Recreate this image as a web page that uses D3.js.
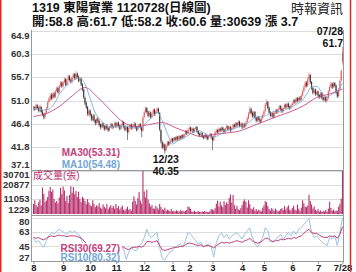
<!DOCTYPE html>
<html>
<head>
<meta charset="utf-8">
<script src="https://cdn.jsdelivr.net/npm/d3@7"></script>
<style>
  body { margin: 0; background: #fff; }
  text { font-family: "Liberation Sans", "Noto Sans CJK TC", sans-serif; }
</style>
</head>
<body>
<div id="viz"></div>
<script>
// daily candles, 2022/08/01 .. 2023/07/28 (trading days)
var openP = [49.3,49.7,49.3,50.0,49.6,49.0,49.7,48.8,48.3,47.7,
  48.6,49.5,50.7,51.2,52.1,51.5,52.4,51.8,52.9,53.5,
  52.7,54.0,54.6,53.9,54.7,55.3,54.2,55.1,55.9,55.2,
  54.8,55.7,56.3,55.5,56.4,55.8,55.0,55.4,54.3,53.2,
  51.5,50.5,49.7,48.2,49.0,48.2,47.1,48.0,47.1,46.5,
  47.4,46.9,46.2,45.7,46.4,45.9,45.3,46.0,45.5,45.1,
  45.8,46.3,45.5,46.0,46.5,45.9,46.6,46.0,45.4,46.1,
  46.7,45.8,45.2,45.7,44.7,45.6,46.2,45.5,46.0,46.4,
  45.7,45.2,45.9,46.3,45.6,45.0,47.7,48.7,49.5,48.8,
  48.0,48.6,47.7,48.4,49.2,48.3,48.9,49.4,48.5,45.0,
  42.7,41.5,42.2,41.1,42.0,42.7,42.3,43.0,43.4,42.9,
  43.6,43.2,43.8,43.3,43.9,43.5,44.1,43.7,44.3,44.9,
  44.5,45.2,45.6,45.0,45.4,44.8,45.3,45.7,44.9,44.4,
  44.1,44.5,43.9,43.6,44.2,43.8,43.4,44.0,44.3,43.7,
  43.1,44.0,44.7,45.1,44.7,45.4,45.0,45.6,45.2,44.8,
  45.5,45.9,45.3,45.7,45.1,45.6,46.2,45.8,46.5,46.1,
  46.8,46.0,46.4,45.7,46.3,45.9,46.7,47.5,48.4,49.3,
  48.6,47.9,48.7,47.6,47.0,47.7,47.2,46.8,47.5,48.2,
  48.9,50.2,50.7,49.6,48.7,48.0,48.5,47.8,48.6,49.1,
  48.7,49.4,49.9,49.3,48.9,49.6,50.2,49.7,50.4,49.8,
  49.5,50.1,50.5,51.1,50.7,51.5,51.0,51.6,51.2,52.1,
  52.9,53.7,54.6,54.0,55.3,56.1,54.7,53.5,52.6,53.2,
  52.3,52.8,52.1,51.7,52.5,51.6,51.2,51.7,51.0,51.5,
  52.9,53.8,54.4,53.7,54.5,54.0,52.7,51.9,53.3,55.0,
  58.8];
var highP = [49.9,49.9,50.4,50.3,49.8,50.2,49.9,49.1,48.5,48.8,
  49.7,50.9,51.7,52.4,52.5,52.6,52.7,53.1,53.8,53.7,
  54.2,54.9,54.8,54.9,55.6,55.5,55.3,56.2,56.1,55.5,
  55.9,56.5,56.5,56.9,56.6,56.0,55.7,55.6,54.5,53.4,
  51.8,50.8,49.9,49.3,49.2,48.4,48.2,48.3,47.3,47.6,
  47.6,47.1,46.4,46.6,46.6,46.1,46.2,46.3,45.7,45.9,
  46.5,46.5,46.1,46.8,46.7,46.8,46.8,46.2,46.3,47.0,
  46.9,46.0,45.9,45.9,45.8,46.4,46.4,46.2,46.7,46.6,
  45.9,46.1,46.5,46.5,45.8,47.9,49.0,49.8,49.7,49.0,
  48.9,48.8,48.6,49.4,49.4,49.1,49.6,49.6,48.7,45.3,
  43.0,42.6,42.4,42.2,42.9,42.9,43.1,43.6,43.5,43.7,
  43.8,44.0,43.9,44.1,44.0,44.2,44.3,44.4,45.1,45.1,
  45.4,45.9,45.8,45.6,45.6,45.5,45.9,45.9,45.1,44.6,
  44.7,44.7,44.1,44.3,44.4,44.0,44.1,44.5,44.5,43.9,
  44.1,44.9,45.3,45.3,45.6,45.6,45.8,45.8,45.4,45.6,
  46.1,46.0,45.9,45.9,45.8,46.4,46.4,46.7,46.7,47.0,
  47.0,46.6,46.6,46.5,46.5,46.9,47.8,48.7,49.8,49.6,
  48.9,48.9,48.9,47.8,47.9,47.9,47.4,47.7,48.4,49.1,
  50.5,51.2,50.9,49.8,48.9,48.7,48.7,48.8,49.3,49.3,
  49.6,50.1,50.1,49.5,49.8,50.4,50.4,50.6,50.6,50.0,
  50.3,50.7,51.3,51.3,51.7,51.7,51.8,51.9,52.3,53.1,
  54.0,54.9,54.9,55.6,56.6,56.3,54.9,53.7,53.4,53.4,
  53.0,53.0,52.3,52.7,52.7,51.8,51.9,51.9,51.7,53.1,
  54.0,54.7,54.6,54.7,54.7,54.2,52.9,53.5,55.2,57.2,
  61.7];
var lowP = [49.0,48.9,49.1,49.2,48.6,48.7,48.4,47.9,47.2,47.4,
  48.3,49.3,50.4,50.9,51.1,51.2,51.4,51.5,52.6,52.3,
  52.4,53.7,53.5,53.6,54.4,53.8,53.9,54.8,54.8,54.4,
  54.5,55.4,55.1,55.2,55.4,54.6,54.7,53.9,52.8,51.3,
  50.1,49.3,47.9,47.8,47.8,46.9,46.8,46.7,46.0,46.2,
  46.5,45.8,45.2,45.4,45.5,44.9,45.0,45.1,44.7,44.8,
  45.5,45.3,45.2,45.7,45.5,45.6,45.6,45.0,45.1,45.8,
  45.4,44.8,44.9,43.1,44.4,45.3,45.1,45.2,45.7,45.3,
  44.8,44.9,45.6,45.2,43.7,44.8,47.4,48.4,48.4,47.6,
  47.7,47.3,47.4,48.1,47.9,48.0,48.6,48.3,44.9,42.4,
  41.3,41.2,40.35,40.8,41.7,41.9,42.0,42.7,42.5,42.6,
  42.8,42.9,42.9,43.0,43.1,43.2,43.3,43.4,44.0,44.1,
  44.2,44.9,44.6,44.7,44.4,44.5,45.0,44.5,44.0,43.7,
  43.8,43.5,43.2,43.3,43.4,43.0,43.1,43.7,43.3,41.1,
  42.8,43.7,44.4,44.3,44.4,44.6,44.7,44.8,44.4,44.5,
  45.2,44.9,45.0,44.7,44.8,45.3,45.4,45.5,45.7,45.8,
  45.6,45.7,45.3,45.4,45.5,45.6,46.4,47.2,48.1,48.2,
  47.5,47.6,47.2,46.6,46.7,46.8,46.4,46.5,47.2,47.9,
  48.6,49.9,49.2,48.3,47.6,47.7,47.4,47.5,48.3,48.3,
  48.4,49.1,48.9,48.5,48.6,49.3,49.3,49.4,49.4,49.1,
  49.2,49.8,50.2,50.3,50.4,50.6,50.7,50.8,50.9,51.8,
  52.6,53.4,53.6,53.7,55.0,54.3,53.1,52.2,52.3,51.9,
  52.0,51.7,51.3,51.4,51.2,50.8,50.9,50.6,50.7,51.2,
  52.6,53.5,53.3,53.4,53.6,52.3,51.5,51.6,53.0,54.7,
  58.2];
var closeP = [49.6,49.2,50.1,49.5,48.9,49.8,48.7,48.2,47.6,48.5,
  49.4,50.6,51.3,52.0,51.4,52.3,51.7,52.8,53.4,52.6,
  53.9,54.5,53.8,54.6,55.2,54.1,55.0,55.8,55.1,54.7,
  55.6,56.2,55.4,56.3,55.7,54.9,55.3,54.2,53.1,51.6,
  50.4,49.6,48.3,48.9,48.1,47.2,47.9,47.0,46.4,47.3,
  46.8,46.1,45.6,46.3,45.8,45.2,45.9,45.4,45.0,45.7,
  46.2,45.6,45.9,46.4,45.8,46.5,45.9,45.3,46.0,46.6,
  45.7,45.1,45.6,44.6,45.5,46.1,45.4,45.9,46.3,45.6,
  45.1,45.8,46.2,45.5,44.9,47.6,48.6,49.4,48.7,47.9,
  48.5,47.6,48.3,49.1,48.2,48.8,49.3,48.6,45.2,42.8,
  41.6,42.3,41.0,41.9,42.6,42.2,42.9,43.3,42.8,43.5,
  43.1,43.7,43.2,43.8,43.4,44.0,43.6,44.2,44.8,44.4,
  45.1,45.5,44.9,45.3,44.7,45.2,45.6,44.8,44.3,44.0,
  44.4,43.8,43.5,44.1,43.7,43.3,43.9,44.2,43.6,43.0,
  43.9,44.6,45.0,44.6,45.3,44.9,45.5,45.1,44.7,45.4,
  45.8,45.2,45.6,45.0,45.5,46.1,45.7,46.4,46.0,46.7,
  45.9,46.3,45.6,46.2,45.8,46.6,47.4,48.3,49.2,48.5,
  47.8,48.6,47.5,46.9,47.6,47.1,46.7,47.4,48.1,48.8,
  50.1,50.6,49.5,48.6,47.9,48.4,47.7,48.5,49.0,48.6,
  49.3,49.8,49.2,48.8,49.5,50.1,49.6,50.3,49.7,49.4,
  50.0,50.4,51.0,50.6,51.4,50.9,51.5,51.1,52.0,52.8,
  53.6,54.5,53.9,55.2,56.0,54.6,53.4,52.5,53.1,52.2,
  52.7,52.0,51.6,52.4,51.5,51.1,51.6,50.9,51.4,52.8,
  53.7,54.3,53.6,54.4,53.9,52.6,51.8,53.2,54.9,56.9,
  60.6];
var volume = [7200,9800,6500,5100,8400,10200,6100,18900,14300,8600,
  9700,12100,16500,19200,15800,17400,10600,8200,9300,7600,
  11800,18700,14200,19600,16900,9400,12800,7900,13600,19800,
  15200,19300,14100,16400,12200,15900,10800,8400,12300,11200,
  9300,7100,10600,8200,6400,5600,9800,7300,4900,6200,
  5400,7800,4600,3800,6900,5200,4100,7200,3500,4800,
  6300,4400,5800,3900,7100,4300,5600,3200,4700,6000,
  3100,2600,3800,5200,2900,3600,2400,8800,12600,9400,
  6800,11300,15800,9600,7400,30701,16200,11800,17400,10300,
  7600,5200,6400,4100,3500,5800,4600,3300,7200,5100,
  3400,2800,4500,2300,3100,2600,2100,3700,1900,2400,
  1800,2700,2200,1600,3000,1900,2500,1700,2300,2900,
  5400,4800,3600,1800,1500,2400,1700,1400,2100,1600,
  1300,1900,1500,2200,1700,1400,1229,2000,3600,3200,
  2600,4100,7300,9600,5400,8800,6300,4900,9100,6600,
  8400,7200,11600,13900,8200,13600,6400,3800,5900,3400,
  2800,4200,6300,9200,10400,8600,4700,9800,7100,3900,
  3300,4800,2400,3600,2000,3100,2600,1800,4500,6100,
  9200,8400,5600,3700,2500,4200,3300,2100,3900,2700,
  1900,2400,3500,4200,2800,5600,3100,4800,6200,3000,
  2500,4400,5900,3200,2600,6700,3800,2200,4600,9800,
  7600,5300,4900,6100,13700,9200,6800,3900,5400,2900,
  2200,3500,1800,2600,1500,2300,1700,2900,1600,3800,
  8700,4300,2400,3100,1900,2600,2100,5200,7300,10900,
  30639];
// moving averages (every 4th / 10th trading day) and RSI (every 2nd day)
var ma10 = [49.4,49.3,49.1,49.25,50.3,52.2,53.5,54.5,55.2,55.5,54.3,51.4,48.5,47.1,46.2,45.7,
  45.7,45.9,45.9,45.6,45.5,45.7,46.7,47.7,48.6,46.95,44.4,42.3,42.9,43.4,44.0,44.65,45.0,
  44.6,44.0,43.7,44.1,44.7,45.2,45.4,45.8,46.1,46.8,47.6,47.8,47.9,48.5,48.9,48.7,49.2,
  49.6,50.25,50.8,52.2,53.7,53.8,52.6,51.7,52.3,52.9,54.48];
var ma30 = [47.8,48.4,49.8,51.9,53.6,51.6,49.0,46.6,45.8,46.2,46.6,45.6,44.6,43.8,44.2,
  44.5,44.9,45.9,46.9,47.9,48.8,50.0,51.6,52.3,53.31];
var rsi10 = [55,50,52,47,44,52,58,62,60,64, 66,64,62,60,64,62,64,60,58,50,
  40,34,36,32,30,34,30,36,32,30, 40,44,46,42,44,42,29,38,44,40,
  40,46,48,56,66,58,56,60,62,44, 30,28,34,38,40,44,46,48,44,52,
  62,60,56,52,48,50,44,46,48,44, 32,50,58,62,56,60,54,58,60,62,
  58,54,60,64,68,56,48,44,50,56, 68,64,52,50,54,56,60,54,58,62,
  58,64,60,66,68,72,76,79,62,56, 58,54,50,48,46,56,54,58,46,62, 80.32];
var rsi30 = [56,55,56,54,53,55,57,58,57,58, 59,58,58,57,58,58,58,57,56,54,
  50,47,46,45,44,44,43,44,43,42, 44,45,45,44,45,44,42,41,43,44,
  44,45,44,46,51,51,50,51,52,46, 41,40,41,42,43,44,44,45,45,47,
  49,49,48,47,46,47,45,46,46,45, 43,46,48,50,49,50,49,50,51,52,
  51,50,52,53,55,52,50,49,50,52, 55,55,52,51,52,52,54,53,54,55,
  54,56,55,57,58,61,64,66,62,61, 61,59,57,56,56,58,57,58,55,60, 69.27];

var priceTicks = ['64.9','60.3','55.7','51.0','46.4','41.8','37.1'];
var volTicks = ['30701','20877','11053','1229'];
var rsiTicks = ['80','63','45','27'];
var monthLabels = ['8','9','10','11','12','1','2','3','4','5','6','7','7/28'];
var monthStart = [0,23,44,64,86,108,121,139,162,179,201,221,240];

var upColor = '#e4565a', downColor = '#333',
    ma30Color = '#c2407a', ma10Color = '#74a7d3',
    volColor = '#b8316f';

var svg = d3.select('#viz').append('svg')
  .attr('width', 356)
  .attr('height', 272);

var left = 31, right = 344;

var xScale = d3.scaleLinear().domain([0, closeP.length - 1]).range([33.5, 342.5]);
var yPrice = d3.scaleLinear().domain([37.1, 64.9]).range([170, 31]);
var yVol = d3.scaleLinear().domain([0, 30701]).range([214, 171]);
var yRsi = d3.scaleLinear().domain([27, 80]).range([261, 218]);

// grid + left labels for one panel
function panelAxis(scale, ticks, top, bottom, pad) {
  var g = svg.append('g');
  g.selectAll('line').data(ticks).enter().append('line')
    .attr('x1', left).attr('x2', right)
    .attr('y1', function(d) { return Math.round(scale(+d)) + 0.5; })
    .attr('y2', function(d) { return Math.round(scale(+d)) + 0.5; })
    .attr('stroke', '#dcdcdc');
  g.selectAll('text').data(ticks).enter().append('text')
    .attr('x', 29.5)
    .attr('y', function(d) { return Math.max(top + pad, Math.min(bottom - pad, scale(+d))); })
    .attr('dy', '0.36em')
    .attr('text-anchor', 'end')
    .attr('font-size', 9.5)
    .attr('font-weight', 'bold')
    .attr('fill', '#333')
    .text(function(d) { return d; });
}
panelAxis(yPrice, priceTicks, 31, 170, 5);
panelAxis(yVol, volTicks, 171, 214, 4);
panelAxis(yRsi, rsiTicks, 218, 261, 3.5);

// candles
var days = d3.range(closeP.length);
var candles = svg.append('g');
candles.selectAll('line').data(days).enter().append('line')
  .attr('x1', function(i) { return xScale(i); })
  .attr('x2', function(i) { return xScale(i); })
  .attr('y1', function(i) { return yPrice(highP[i]); })
  .attr('y2', function(i) { return yPrice(lowP[i]); })
  .attr('stroke', function(i) { return closeP[i] >= openP[i] ? upColor : downColor; })
  .attr('stroke-width', 0.6);
candles.selectAll('rect').data(days).enter().append('rect')
  .attr('x', function(i) { return xScale(i) - 0.5; })
  .attr('width', 1)
  .attr('y', function(i) { return yPrice(Math.max(openP[i], closeP[i])); })
  .attr('height', function(i) {
    return Math.max(0.8, Math.abs(yPrice(openP[i]) - yPrice(closeP[i])));
  })
  .attr('fill', function(i) { return closeP[i] >= openP[i] ? upColor : downColor; });

// moving averages
var ma30Line = d3.line()
  .x(function(d, k) { return xScale(Math.min(k * 10, 240)); })
  .y(function(d) { return yPrice(d); })
  .curve(d3.curveMonotoneX);
var ma10Line = d3.line()
  .x(function(d, k) { return xScale(k * 4); })
  .y(function(d) { return yPrice(d); })
  .curve(d3.curveMonotoneX);
svg.append('path').attr('d', ma30Line(ma30)).attr('fill', 'none')
  .attr('stroke', ma30Color).attr('stroke-width', 1).attr('opacity', 0.85);
svg.append('path').attr('d', ma10Line(ma10)).attr('fill', 'none')
  .attr('stroke', ma10Color).attr('stroke-width', 1).attr('opacity', 0.85);

// volume bars
svg.append('g').selectAll('rect').data(volume).enter().append('rect')
  .attr('x', function(d, i) { return xScale(i) - 0.55; })
  .attr('width', 1.1)
  .attr('y', function(d) { return yVol(d); })
  .attr('height', function(d) { return 214 - yVol(d); })
  .attr('fill', volColor);

// RSI lines
var rsiLine = d3.line()
  .x(function(d, k) { return xScale(k * 2); })
  .y(function(d) { return yRsi(d); });
svg.append('path').attr('d', rsiLine(rsi10)).attr('fill', 'none')
  .attr('stroke', '#9cc2e0').attr('stroke-width', 1);
svg.append('path').attr('d', rsiLine(rsi30)).attr('fill', 'none')
  .attr('stroke', ma30Color).attr('stroke-width', 1);

// panel frame
var frame = svg.append('g').attr('stroke', '#999').attr('stroke-width', 1);
frame.append('line').attr('x1', left + 0.5).attr('x2', left + 0.5).attr('y1', 30).attr('y2', 262);
frame.append('line').attr('x1', right - 0.5).attr('x2', right - 0.5).attr('y1', 30).attr('y2', 262);
[170.5, 215.5, 261.5].forEach(function(y) {
  frame.append('line').attr('x1', left).attr('x2', right).attr('y1', y).attr('y2', y);
});

// month axis
var xAxis = d3.axisBottom(xScale)
  .tickValues(monthStart)
  .tickSize(2)
  .tickFormat(function(d, i) { return monthLabels[i]; });
var xg = svg.append('g').attr('transform', 'translate(0,262)').call(xAxis);
xg.select('.domain').remove();
xg.selectAll('line').attr('stroke', '#999');
xg.selectAll('text')
  .attr('y', 2.5).attr('dy', '0.71em')
  .attr('font-size', 9.5).attr('font-weight', 'bold').attr('fill', '#222')
  .style('font-family', '"Liberation Sans", sans-serif');

// legends
function label(x, y, txt, color, anchor, size, weight) {
  return svg.append('text').attr('x', x).attr('y', y)
    .attr('text-anchor', anchor || 'start')
    .attr('font-size', size || 10)
    .attr('font-weight', weight || 'bold')
    .attr('fill', color).text(txt);
}
svg.append('rect').attr('x', 60).attr('y', 147).attr('width', 62).attr('height', 22).attr('fill', '#fff');
label(120, 156, 'MA30(' + ma30[ma30.length - 1].toFixed(2) + ')', ma30Color, 'end');
label(120, 168, 'MA10(' + ma10[ma10.length - 1].toFixed(2) + ')', ma10Color, 'end');

svg.append('rect').attr('x', 60).attr('y', 243).attr('width', 62).attr('height', 18).attr('fill', '#fff');
label(120, 251.5, 'RSI30(' + rsi30[rsi30.length - 1].toFixed(2) + ')', ma30Color, 'end');
label(120, 261, 'RSI10(' + rsi10[rsi10.length - 1].toFixed(2) + ')', '#74a7d3', 'end');

label(33, 179, '成交量(張)', volColor, 'start', 10, 'normal');

// low / last markers
var lowIdx = d3.minIndex(lowP);
label(xScale(lowIdx) + 1, 163, '12/23', '#111', 'middle', 10.5);
label(xScale(lowIdx) + 1, 175, d3.min(lowP).toFixed(2), '#111', 'middle', 10.5);
label(343, 35, '07/28', '#111', 'end', 10.5);
label(343, 47, highP[highP.length - 1].toFixed(1), '#111', 'end', 10.5);

// header
label(32, 12, '1319  東陽實業 1120728(日線圖)', '#111', 'start', 12.5);
label(32, 25.5, '開:58.8 高:61.7 低:58.2 收:60.6 量:30639 漲 3.7', '#111', 'start', 12.5);
label(343, 13, '時報資訊', '#222', 'end', 13, 'normal');

// outer red border
svg.append('line').attr('x1', 0.75).attr('x2', 0.75).attr('y1', 0).attr('y2', 272)
  .attr('stroke', '#e02828').attr('stroke-width', 1.5);
svg.append('line').attr('x1', 350.5).attr('x2', 350.5).attr('y1', 0).attr('y2', 272)
  .attr('stroke', '#e02828').attr('stroke-width', 1.5);
</script>
</body>
</html>
